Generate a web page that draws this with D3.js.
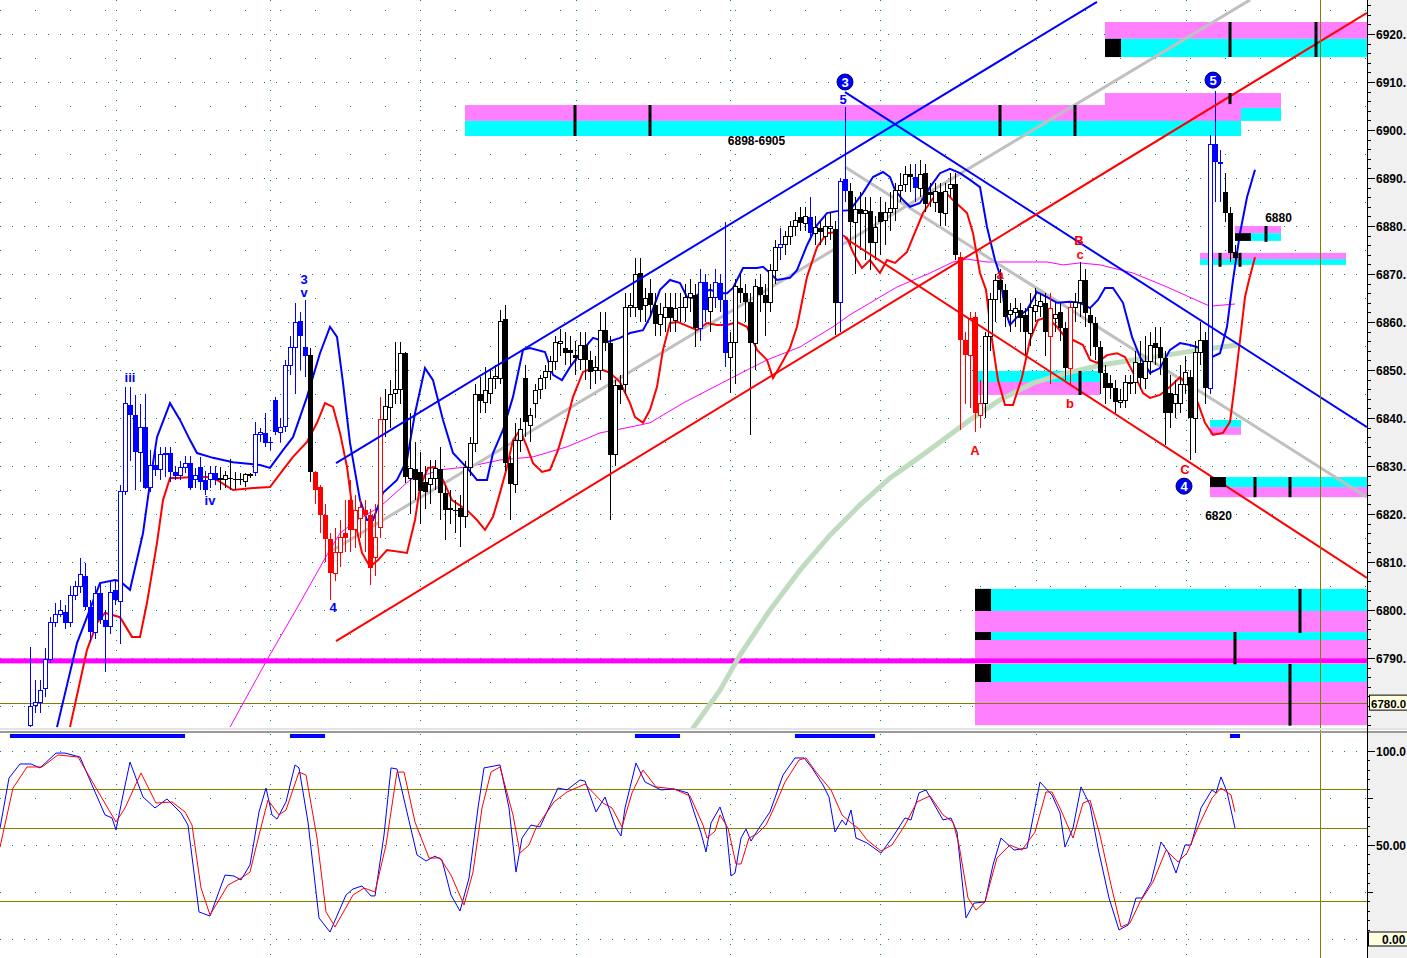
<!DOCTYPE html>
<html><head><meta charset="utf-8">
<script src="https://cdn.jsdelivr.net/npm/d3@7"></script>
<style>
html,body{margin:0;padding:0;background:#fff;overflow:hidden}
svg{display:block}
text{font-family:"Liberation Sans",Arial,sans-serif}
</style></head><body>
<svg id="c" width="1407" height="958"></svg>
<script>
// ---------------- DATA ----------------
// candles: [open, high, low, close], one per bar (bar index = position)
const candles = [
[6776,6792.3,6775.6,6779.8],[6780.2,6785.4,6778.5,6780.8],[6780.8,6785.4,6778.5,6783.3],[6783.75,6792.1,6781.9,6789.6],[6789.6,6798.5,6789,6797.3],
[6797.3,6801.5,6796.5,6799.0],[6799.0,6802.1,6798.5,6800.0],[6799.6,6801,6796,6797.3],[6797.3,6805,6796.5,6803.1],[6803.1,6806,6802,6804.8],
[6804.8,6810.8,6803.5,6807.3],[6807.1,6809.8,6800,6800.6],[6800.6,6802,6793.3,6795.4],[6795.4,6805,6794,6803.5],[6803.5,6805.5,6797,6797.9],
[6797.9,6800,6787.1,6796.5],[6796.5,6806,6795,6803.75],[6804.2,6806,6801,6802.1],[6801.7,6826,6793,6824.6],[6824.6,6846.5,6824,6843.1],
[6842.7,6846.5,6831,6840.6],[6840.6,6844.8,6825,6832.9],[6832.9,6843,6826.7,6838.1],[6838.1,6845,6825.2,6825.4],[6825.6,6833.3,6824.5,6830.2],
[6830.2,6834.8,6828,6829.2],[6829.2,6834,6827,6832.3],[6832.3,6834,6827.7,6832.7],[6832.7,6834,6826.7,6828.75],[6828.75,6830,6827,6828.0],
[6828.0,6831,6827,6829.6],[6829.6,6832,6828.5,6830.6],[6830.6,6832,6825,6825.4],[6827.1,6829.5,6825.5,6828.0],[6829.8,6831.9,6825,6826.7],
[6827.1,6829,6824,6825.0],[6827.1,6830,6825.5,6828.5],[6828.5,6830,6826,6827.1],[6827.3,6829.8,6825,6827.5],[6827.1,6829,6825.5,6828.0],
[6827.5,6831.5,6825,6827.3],[6827.3,6828.75,6825,6827.1],[6827.3,6828.5,6826,6827.1],[6826.7,6828.5,6825.6,6828.2],[6828,6828.5,6827.5,6828.2],
[6828.75,6839.2,6828,6836.5],[6836.5,6838,6835,6837.0],[6836.9,6841,6834,6834.8],[6835,6836,6833.3,6834.8],[6843.75,6844.4,6836.5,6837.1],
[6837,6840,6835,6838.1],[6838.2,6852,6837,6851.0],[6851,6857,6849,6854.6],[6854.6,6864,6845,6860.0],[6860.2,6862,6850,6857.1],
[6854.8,6864.6,6848.5,6852.9],[6853.1,6854.6,6826.7,6828.75],[6828.75,6829,6822,6825.0],[6825.6,6826,6816,6819.8],[6819.8,6822,6810,6814.8],
[6814.8,6816,6802.1,6807.7],[6807.7,6817,6806,6811.9],[6811.9,6818.75,6809,6815.2],[6816.0,6823,6812,6815.0],[6822.9,6827,6812,6816.7],
[6816.7,6824,6813,6820.8],[6819,6823,6815,6821.3],[6820.8,6823,6812,6819.8],[6819.8,6821,6805.2,6808.75],[6811,6822,6807,6815.2],
[6817.1,6844.4,6815,6839.6],[6839.6,6846,6836,6842.3],[6842.1,6848,6838,6844.8],[6845.2,6855.8,6843,6846.0],[6846.0,6855.8,6843,6853.5],
[6853.5,6853.75,6826.5,6827.7],[6827.5,6841,6820,6829.4],[6829.4,6835,6823,6827.1],[6828.75,6833,6818,6824.8],[6826.7,6830,6821,6824.6],
[6826.25,6831.25,6822,6827.3],[6827.3,6831.25,6825,6829.4],[6829.4,6834,6818.75,6824.4],[6824.4,6826,6814.6,6820.8],[6821.25,6825,6818,6820.8],
[6820.8,6823,6816,6820.6],[6821.25,6824,6813.1,6819.4],[6819.4,6831,6817,6829.6],[6829.6,6836,6828,6834.6],[6834.6,6847,6833,6845.0],
[6845.0,6848.5,6841,6843.5],[6843.3,6850.6,6841,6845.8],[6845.2,6850,6843,6848.3],[6848.3,6851,6846,6848.75],[6848.3,6862.5,6847,6860.2],
[6860.6,6863.5,6829,6830.6],[6830.6,6832,6818.75,6826.25],[6826.25,6839,6824.4,6835.4],[6835.4,6840,6833,6837.7],[6848.3,6851,6836,6839.2],
[6838.5,6842,6835,6840.5],[6843.1,6847,6840,6845.8],[6846,6849,6844,6848.3],[6848.5,6851,6846,6849.6],[6849.6,6853,6848,6851.7],
[6851.7,6857,6850,6855.8],[6855.6,6858.5,6853,6856.0],[6854.6,6858,6851,6853.5],[6854.2,6857,6851,6853.5],[6853.1,6856,6849,6852.5],
[6852.1,6858,6850,6855.2],[6855.2,6858,6848,6852.1],[6852.1,6854,6846,6849.6],[6849.8,6853,6847,6850.6],[6850.0,6862,6848,6858.3],
[6858.3,6862,6854,6855.6],[6855.6,6857,6818.75,6832.3],[6832.3,6848,6830,6846.7],[6846.9,6849,6843,6845.8],[6846.9,6866,6845,6863.1],
[6863.1,6866,6861,6863.5],[6863.1,6873.3,6861,6869.8],[6870.2,6873.3,6860,6862.5],[6863.5,6867,6860,6865.0],[6866.0,6869,6861,6863.5],
[6863.5,6866,6857,6859.6],[6859.4,6864,6857,6861.5],[6861.0,6866,6858,6863.1],[6863.1,6866,6858,6860.8],[6860.4,6866,6858,6862.9],
[6863.1,6866,6860,6862.9],[6863.1,6868,6860,6865.2],[6865.2,6869,6862,6866.0],[6865.6,6868,6854.8,6858.75],[6858.75,6871,6856,6868.3],
[6868.3,6870,6860,6862.5],[6862.1,6868,6858,6865.2],[6865.2,6871,6863,6868.3],[6868.1,6870,6862,6864.6],[6864.6,6880.8,6850.6,6853.5],
[6852.7,6858,6845.2,6855.8],[6855.8,6869,6847,6867.3],[6867.1,6870,6864,6866.0],[6866.0,6868,6860,6864.2],[6864.2,6866,6836.5,6855.6],
[6855.6,6869,6850,6867.3],[6867.3,6870,6862,6865.6],[6865.6,6868,6857,6864.0],[6864.0,6872,6862,6870.8],[6870.8,6877,6868,6875.6],
[6875.6,6879.5,6873,6876.25],[6876.25,6879,6874,6877.9],[6877.9,6881,6876,6879.8],[6879.8,6883,6878,6881.25],[6881.9,6884,6879,6880.6],
[6880.6,6884,6879,6881.9],[6881.9,6886,6877,6878.5],[6878.5,6882,6876,6879.6],[6879.6,6881,6876,6878.75],[6877.9,6882,6876,6880.0],
[6879.4,6883,6877,6880.0],[6879.4,6881,6857.3,6864.0],[6864.0,6890,6858,6889.2],[6889.8,6904.8,6885,6887.3],[6887.3,6889,6876,6880.8],
[6880.8,6886,6870,6883.5],[6883.5,6887,6875,6882.5],[6882.7,6886,6873,6883.3],[6883.1,6886,6870.8,6876.5],[6876.5,6882,6873,6879.6],
[6882.9,6886,6874,6880.8],[6881.25,6885,6876,6882.9],[6882.9,6887,6879,6883.75],[6883.75,6889,6881,6887.5],[6887.5,6891,6885,6888.5],
[6888.75,6892.5,6887,6890.8],[6890.8,6893,6887,6890.2],[6890.2,6893,6885,6887.9],[6887.9,6893.8,6886,6890.8],[6891.0,6893,6883,6884.6],
[6887.1,6889,6884,6886.5],[6884.8,6889,6883,6887.1],[6887.1,6889,6880,6882.7],[6882.7,6889,6880,6887.1],[6887.9,6891,6886,6888.75],
[6888.75,6891,6873,6874.0],[6873.5,6874.5,6837.5,6856.25],[6856.25,6858,6843,6853.1],[6853.1,6862,6842,6860.8],[6861.0,6862,6837.1,6841.0],
[6840.6,6848,6838,6843.1],[6843.1,6858,6840,6856.9],[6856.9,6866,6854,6864.6],[6864.6,6870,6860,6868.75],[6868.75,6871,6864,6866.7],
[6866.7,6868,6859,6861.0],[6861.5,6864,6858,6862.3],[6861.9,6865,6859,6862.9],[6862.5,6864,6858,6860.8],[6861.5,6863,6853,6857.9],
[6857.7,6866,6855,6863.1],[6862.1,6867,6860,6863.5],[6863.3,6866,6861,6864.2],[6864.0,6866,6853,6857.9],[6856.9,6866,6847,6862.9],
[6860.8,6864,6858,6861.5],[6862.1,6864,6856,6858.75],[6858.75,6860,6848,6850.4],[6850.4,6864,6847,6863.1],[6863.1,6866,6860,6864.0],
[6864.0,6872.5,6861,6868.75],[6868.75,6871,6859,6861.9],[6861.5,6863,6853,6859.8],[6859.8,6861,6852,6854.8],[6854.8,6856,6845,6849.4],
[6849.4,6851,6843,6846.25],[6847.3,6849,6844,6846.25],[6846.25,6848,6841,6843.3],[6843.3,6846,6842,6843.75],[6843.75,6849,6842,6847.3],
[6847.3,6849,6845,6847.5],[6847.5,6854,6845,6851.5],[6851.5,6856,6846,6848.3],[6848.3,6857,6846,6851.7],[6851.7,6858,6849,6855.2],
[6855.6,6859,6851,6854.6],[6854.8,6859,6849,6852.5],[6852.5,6854,6834.4,6841.0],[6845.2,6849,6838,6841.0],[6843.1,6848,6840,6844.8],
[6843.1,6851,6841,6846.9],[6846.9,6853,6845,6849.4],[6848.5,6850,6831.25,6840.0],[6840.0,6856,6832.7,6853.75],[6853.75,6860,6851,6856.25],
[6856.25,6858,6843,6846.25],[6846.25,6899,6845,6896.9],[6897.1,6908.1,6885,6893.3],[6893.3,6895.8,6885.0,6893.0],[6887.1,6891.0,6880.8,6882.7],
[6882.7,6884,6872.5,6874.4],[6874.6,6876,6872,6873.3]
];
// trend state of each bar run: b = blue, r = red, k = black
const colorRuns = [[0,37,'b'],[38,44,'k'],[45,55,'b'],[56,56,'k'],[57,70,'r'],[71,133,'k'],[134,135,'b'],[136,136,'k'],[137,139,'b'],[140,149,'k'],[150,150,'b'],[151,155,'k'],[156,156,'b'],[157,161,'k'],[162,163,'b'],[164,176,'k'],[177,177,'b'],[178,185,'k'],[186,190,'r'],[191,203,'k'],[204,204,'r'],[205,207,'k'],[208,208,'r'],[209,235,'k'],[236,238,'b'],[239,241,'k']];

// indicator lines [bar, price]
const blueBand = [[5.4,6775.6],[9.4,6793.1],[14,6805.6],[17,6806.25],[18,6806],[20,6804.2],[22.6,6816.0],[24,6826.5],[25.4,6836.0],[28,6843.1],[30,6839.6],[32,6835.4],[33.4,6832.7],[36.6,6831.7],[40.6,6830.8],[46,6830.2],[48,6829.6],[50.6,6833.3],[52.6,6836.0],[55.4,6844.4],[58,6853.5],[60,6859.0],[61.4,6856.9],[62.6,6847.3],[64,6834.8],[66,6822.9],[67.4,6818.75],[68.6,6818.75],[70.6,6824.4],[73.4,6827.1],[75.4,6831.25],[77,6841.0],[79,6850.4],[80.6,6847.9],[82.6,6839.6],[84.6,6832.7],[87.4,6829.6],[89.4,6827.1],[91.4,6827.1],[92.6,6832.7],[94.6,6837.5],[96.6,6844.4],[98.6,6854.2],[100,6854.6],[103,6853.75],[104.6,6849.0],[106.4,6847.9],[108,6850.6],[110.6,6854.2],[112.6,6856.7],[115.4,6855.8],[118,6856.7],[120,6857.7],[122.6,6858.3],[124,6861.0],[126,6866.7],[128,6868.75],[130,6868.1],[131.4,6865.2],[132.6,6865.0],[134,6866.0],[136,6866.7],[138,6866.0],[139.4,6866.0],[140.6,6867.1],[142.6,6871.25],[145.4,6871.25],[146.6,6871.5],[148,6870.2],[149.4,6868.75],[152,6869.2],[153.4,6870.8],[155.4,6876.0],[157.4,6880.2],[159.4,6882.7],[161.4,6883.1],[164,6883.3],[166.6,6886.9],[168.6,6890.2],[170.6,6891.25],[172,6890.2],[173,6887.5],[174.6,6885.4],[176,6884.0],[178,6884.8],[180,6888.1],[182,6891.0],[184,6891.9],[186,6891.0],[188,6889.6],[190,6888.1],[191.4,6879.8],[193,6872.9],[194,6869.8],[195,6862.5],[196,6859.4],[197.4,6861.0],[199.4,6862.5],[201.4,6866.25],[203.4,6865.2],[205.4,6864.0],[208,6864.2],[210,6864.0],[212,6862.9],[213.6,6864.6],[215,6867.1],[216.6,6867.1],[218.6,6864.0],[220.4,6856.9],[222,6852.7],[224,6849.4],[226,6850.4],[228,6854.2],[230,6855.6],[232,6855.2],[234,6854.6],[236,6852.5],[238,6853.5],[239.4,6859.0],[240.6,6868.75],[242,6878.5],[243.4,6886.0],[245,6891.7]];
const redBand = [[8,6775.6],[11.4,6791.7],[13.4,6797.3],[15,6799.4],[18,6798.5],[20.4,6794.4],[22,6794.4],[23.4,6801.5],[25.4,6814.0],[26.6,6822.9],[28,6827.5],[29.4,6827.5],[32.6,6827.7],[35.4,6827.7],[37.4,6827.1],[40.6,6825.0],[44.6,6825.4],[48,6825.6],[50.6,6829.2],[52.6,6831.9],[55.4,6835.0],[57.4,6839.0],[59,6843.1],[60.6,6842.3],[62,6836.9],[63.4,6829.8],[64.6,6820.2],[66.4,6811.9],[68,6809.0],[69.6,6810.4],[71.4,6812.5],[75.4,6811.9],[77,6818.75],[78,6825.6],[79.6,6829.6],[81,6829.8],[82.6,6827.1],[84.4,6822.9],[87.4,6820.8],[89.4,6818.75],[91,6816.7],[92.6,6819.4],[94,6824.4],[95.4,6829.8],[96.6,6835.4],[98,6837.5],[99.4,6834.0],[100.6,6830.6],[102.4,6828.75],[104,6829.2],[105.6,6833.3],[107.4,6839.6],[108.6,6844.4],[110.6,6849.6],[112.6,6850.4],[114.6,6850.0],[116,6849.4],[118,6847.5],[120,6843.1],[121,6840.2],[122.6,6839.0],[124,6841.7],[125.4,6846.5],[126.6,6854.2],[128,6859.8],[129.6,6860.0],[131.4,6859.2],[133.4,6858.3],[135.4,6859.8],[137.4,6859.4],[139.4,6859.4],[141.4,6860.0],[143.4,6859.0],[145.4,6854.2],[147.4,6852.1],[148.6,6848.3],[150.4,6851.5],[152,6854.6],[153.4,6859.0],[155.4,6869.4],[157.4,6875.6],[159.4,6878.5],[161.4,6878.75],[163.4,6877.5],[164.4,6875.0],[165.4,6872.9],[166.4,6871.25],[168,6872.9],[170,6870.2],[171.4,6872.9],[173,6872.3],[175.4,6874.6],[176.6,6877.7],[178.6,6882.7],[180.6,6885.8],[183,6887.1],[184.6,6885.4],[187.4,6882.7],[188.6,6878.5],[190,6870.2],[191.2,6866.7],[192.4,6856.25],[193.6,6847.9],[195,6842.7],[196.6,6842.7],[198.4,6848.5],[200,6856.25],[201.6,6860.4],[203.4,6861.0],[205.4,6859.0],[207,6856.9],[208.6,6856.25],[210.6,6855.2],[212,6852.1],[213.4,6851.5],[215.4,6853.1],[217.4,6853.5],[219,6852.7],[221.4,6847.9],[222.6,6845.2],[224,6844.2],[226,6844.8],[228,6846.5],[230,6848.5],[232,6846.5],[233.6,6843.1],[235,6839.0],[236.6,6836.5],[238.6,6836.9],[240,6839.2],[241,6847.3],[242,6856.25],[243,6865.2],[243.8,6868.75],[245,6873.5]];
const slowMA = [[40,6775.6],[47.4,6789.6],[54,6801.5],[59.4,6811.5],[62,6816.0],[65.4,6818.75],[70,6821.5],[76,6827.1],[82,6829.2],[87.4,6829.8],[94,6831.25],[100.6,6831.9],[107.4,6834.0],[114,6836.9],[120,6838.1],[124,6839.0],[130.6,6843.1],[140.6,6848.5],[147.4,6852.1],[154,6854.8],[160.6,6859.0],[164,6861.5],[173.4,6867.3],[180,6870.2],[184.6,6872.5],[187.4,6873.1],[191.4,6872.5],[203.4,6872.5],[206.6,6871.9],[210,6872.3],[214,6871.9],[220.6,6870.2],[227.4,6867.3],[234,6864.2],[236,6863.3],[241,6863.75]];
const longMA = [[132.6,6775.4],[138,6783.3],[142,6790.6],[148,6800.0],[154,6808.3],[160,6815.6],[166,6821.9],[172,6827.5],[178,6831.9],[184,6836.5],[188,6839.6],[194,6843.75],[200.6,6847.3],[207.4,6849.4],[214,6851.0],[220.6,6852.1],[227.4,6853.1],[234,6854.2],[241.4,6855.2]];

// trend lines [[bar, price],[bar, price]]
const trendBlue = [[[61.2,6830.6],[213.4,6926.7]], [[163,6907.9],[267.4,6838.1]]];
const trendRed  = [[[61.2,6793.5],[267.4,6924.4]], [[163,6877.5],[267.4,6806.7]]];
const trendGrey = [[[60.6,6812.5],[244,6927.1]], [[163,6892.3],[267.4,6823.5]]];

// supply / demand zones: bar from, bar to, top, middle, bottom, kind, marker box
const zones = [
 {b0:215,b1:267.4,top:6922.5,mid:6919.0,bot:6915.2,kind:'res',box:true},
 {b0:215,b1:250.2,top:6907.7,mid:6904.6,bot:6901.9,kind:'res',box:false},
 {b0:87,b1:242.2,top:6905.2,mid:6901.9,bot:6898.75,kind:'res',box:false},
 {b0:241,b1:250.2,top:6880.0,mid:6878.5,bot:6876.9,kind:'res',box:true},
 {b0:234,b1:263.2,top:6874.4,mid:6873.1,bot:6871.9,kind:'res',box:false},
 {b0:189.6,b1:214,top:6849.8,mid:6847.5,bot:6844.8,kind:'sup',box:false},
 {b0:236,b1:242.2,top:6839.6,mid:6838.1,bot:6836.5,kind:'sup',box:false},
 {b0:236,b1:267.4,top:6827.7,mid:6825.6,bot:6823.5,kind:'sup',box:true},
 {b0:189,b1:267.4,top:6804.4,mid:6799.8,bot:6795.4,kind:'sup',box:true},
 {b0:189,b1:267.4,top:6795.4,mid:6793.75,bot:6789.8,kind:'sup',box:true},
 {b0:189,b1:267.4,top:6788.75,mid:6785.0,bot:6776.0,kind:'sup',box:true}
];
// zone ticks [bar, price top, price bottom]
const zoneTicks = [[240,6922.5,6915.2],[257.2,6922.5,6915.2],[109,6905.2,6898.75],[124,6905.2,6898.75],[194,6905.2,6898.75],[209,6905.2,6898.75],[240,6907.7,6905.4],[247.2,6880.0,6876.7],[238,6874.4,6871.5],[242,6874.4,6871.5],[245,6827.7,6823.5],[252,6827.7,6823.5],[210,6849.8,6844.8],[254,6804.4,6795.2],[241,6795.4,6788.7],[252,6788.75,6775.9]];

const magentaLevel = 6789.4;
const oliveLevel = 6780.6;
const markerBar = 258;
const gridBars = [17.2, 48, 78, 109.2, 140, 170, 201.2, 231.2];
const priceTicks = [6780,6790,6800,6810,6820,6830,6840,6850,6860,6870,6880,6890,6900,6910,6920];
const priceLabels = ['6780.','6790.','6800.','6810.','6820.','6830.','6840.','6850.','6860.','6870.','6880.','6890.','6900.','6910.','6920.'];
const lastPrice = '6780.0';

// wave annotations [text, bar, price, colour-group, circled]
const waveLabels = [
 ['3',54.8,6867.9,'b',false],['v',54.8,6865.2,'b',false],['iii',20,6847.5,'b',false],['iv',36,6821.9,'b',false],
 ['4',60.6,6799.6,'b',false],['5',162.6,6905.4,'b',false],
 ['3',163,6910,'b',true],['5',236.6,6910.4,'b',true],['4',230.8,6825.8,'b',true],
 ['A',189,6832.3,'r',false],['a',194,6869.0,'r',false],['B',209.8,6876.0,'r',false],['c',210,6873.1,'r',false],
 ['b',208,6842.1,'r',false],['C',231,6828.3,'r',false]
];
const levelLabels = [['6898-6905',145.3,6896.9],['6880',249.7,6880.8],['6820',237.7,6818.8]];

// oscillator [bar, value]
const oscBlue = [[-6,59.0],[-4.2,85.6],[-2,93.1],[0.2,93.1],[2,91.0],[5.2,98.9],[7,98.9],[10,96.8],[12.4,81.9],[15,66.0],[16.4,64.4],[17.2,58.0],[18.6,76.6],[20,94.1],[22.6,75.5],[25,69.7],[27.4,74.5],[30.2,67.0],[31.6,60.6],[33.8,14.4],[36,12.2],[39,34.0],[40.8,33.5],[42.2,31.4],[44,39.4],[45.8,67.6],[47.2,80.3],[48.4,66.0],[49.4,63.8],[51.2,72.9],[53,92.6],[53.8,91.0],[55.6,62.2],[57.8,11.2],[60,3.7],[63.2,23.4],[64.6,26.6],[66.4,28.2],[68.2,22.9],[69,22.9],[70.8,55.3],[72.2,91.0],[73.4,90.4],[75.2,69.7],[77.4,44.7],[79.2,41.5],[81,44.1],[82.4,42.0],[84.2,23.4],[86,14.9],[87.8,32.4],[89.6,69.7],[90.8,91.0],[94,92.6],[95.8,69.7],[97.2,35.6],[98.4,53.7],[100.2,60.6],[102,59.6],[105.6,80.3],[107.4,79.3],[110,84.6],[111,84.0],[113.2,67.6],[115,75.5],[117.2,59.0],[118.2,54.8],[119,69.7],[121.2,93.6],[123,83.5],[126.2,79.3],[128.8,79.8],[131.6,77.7],[132.8,67.6],[134.2,56.4],[135.2,46.3],[136.2,61.7],[138,70.2],[139.2,60.6],[140.2,33.5],[141,35.1],[142.2,53.7],[143.2,58.5],[144.2,52.1],[145.8,59.0],[148,67.6],[150.6,87.2],[153,96.3],[154.8,96.3],[156.4,91.0],[158.6,81.9],[159.8,75.5],[161,56.9],[162.4,63.3],[163.2,60.6],[164.2,68.6],[165.2,53.7],[167.4,51.1],[170.2,45.7],[172.4,53.7],[175,64.4],[176.2,63.3],[177.8,77.7],[179.2,79.3],[182.6,63.3],[184.2,64.4],[185.4,56.9],[187.2,11.2],[188.8,19.1],[191,19.7],[192.6,39.4],[194.2,53.7],[196.8,47.3],[199.4,48.4],[200.2,59.0],[202,83.5],[204.4,76.6],[206,67.0],[207,48.9],[208.6,59.0],[210.2,80.9],[212,71.3],[213.6,48.4],[215.8,21.8],[217.8,4.8],[219.6,7.4],[221.2,21.8],[222.4,21.8],[224.2,30.3],[226.2,51.6],[227.6,46.3],[229.2,35.1],[231,50.0],[232.2,50.0],[234.2,69.7],[236.4,79.3],[237.2,77.7],[238.2,86.2],[239.4,78.2],[241,59.0]];
const oscRed = [[-6,48.9],[-3.4,80.3],[-0.6,91.5],[2.4,91.5],[5.6,97.9],[9.6,96.8],[13.2,80.3],[17.2,62.2],[19,69.7],[22.2,88.3],[25.2,72.3],[28.4,72.9],[31,67.6],[32.4,60.6],[34.2,27.1],[36,12.8],[39.6,28.7],[42.6,33.0],[44,35.6],[45.8,55.3],[47.6,73.9],[49.8,66.0],[51.2,68.6],[53.8,88.8],[55.2,87.2],[57.4,53.7],[59.2,14.4],[61,6.4],[64.6,23.4],[66.8,27.1],[69,25.0],[71.2,50.0],[73.4,88.8],[74.8,88.8],[77,62.2],[79.8,43.1],[82,43.1],[84.2,34.0],[86.8,18.1],[88.6,35.6],[90.4,69.7],[92.2,88.8],[94,91.5],[96.6,66.0],[98,45.7],[99.8,50.0],[101.2,59.0],[104.8,72.9],[107.4,78.2],[111,82.4],[114.6,72.3],[116.4,69.7],[118.4,59.6],[120.4,77.7],[122.6,89.9],[125.2,80.9],[128.8,79.8],[132,76.1],[134.6,60.6],[135.4,53.7],[137,57.4],[138,66.0],[139.6,59.0],[141.2,39.9],[142.2,39.9],[143.8,53.7],[145.4,55.9],[147.2,60.6],[148.8,69.7],[151,83.5],[153.8,95.2],[155.2,96.3],[157.2,88.8],[160.2,79.3],[162.4,66.0],[164,62.2],[165.6,59.0],[167.4,52.7],[170.2,46.8],[172.4,50.0],[175,60.6],[177.4,72.9],[180,76.1],[182.6,66.0],[184.6,62.2],[185.8,50.0],[187.6,21.8],[189.2,15.4],[191,19.7],[193.4,43.1],[196,50.0],[198.4,47.3],[201,56.9],[203.2,78.2],[204.4,78.2],[206,69.7],[208.6,53.7],[210.6,72.3],[212,73.9],[214,55.3],[216.2,28.7],[218.2,6.4],[220,8.5],[222,19.7],[224.6,30.3],[227.2,47.3],[229.6,41.0],[231.4,45.7],[233.8,60.6],[236.4,75.0],[238.2,80.3],[240.2,76.6],[241,67.6]];
const oscLevels = [80, 59, 20];
const oscTicks = [100, 50];
const oscLabels = ['100.0', '50.00'];
const oscLast = '0.00';
const signalRuns = [[-4,31],[52,59],[121,130],[153,169],[240,242]];

// ---------------- DRAW ----------------
const COL = {b:'#0000ff', r:'#ff0000', k:'#000000'};
const PINK = '#ff80ff', CYAN = '#00ffff', TEAL = '#008080', OLIVE = '#808000';
const plotW = 1367, mainH = 728, oscTop = 734;

const x = d3.scaleLinear().domain([0, 241]).range([30, 1235]);
const y = d3.scaleLinear().domain([6780, 6920]).range([706, 34]);
const yo = d3.scaleLinear().domain([0, 100]).range([939, 751]);

const svg = d3.select('#c');
const defs = svg.append('defs');
defs.append('clipPath').attr('id','mc').append('rect').attr('x',0).attr('y',0).attr('width',plotW).attr('height',mainH);
defs.append('clipPath').attr('id','oc').append('rect').attr('x',0).attr('y',oscTop).attr('width',plotW).attr('height',958-oscTop);

svg.append('rect').attr('width',1407).attr('height',958).attr('fill','#fff');

const main = svg.append('g').attr('clip-path','url(#mc)');
const osc = svg.append('g').attr('clip-path','url(#oc)');

function hline(g, yy, dash, col, w) {
  g.append('line').attr('x1',0).attr('x2',plotW).attr('y1',Math.round(yy)+0.5).attr('y2',Math.round(yy)+0.5)
   .attr('stroke',col).attr('stroke-width',w||1).attr('stroke-dasharray',dash||null);
}
function vline(g, xx, y1, y2, dash, col, w) {
  g.append('line').attr('x1',Math.round(xx)+0.5).attr('x2',Math.round(xx)+0.5).attr('y1',y1).attr('y2',y2)
   .attr('stroke',col).attr('stroke-width',w||1).attr('stroke-dasharray',dash||null);
}

// grid main
priceTicks.forEach(p => { hline(main, y(p), '1,11', TEAL); hline(main, y(p+5), '1,34', TEAL); });
gridBars.forEach(b => vline(main, x(b), 0, mainH, '1,9', TEAL));

// zones
zones.forEach(z => {
  const xa = x(z.b0), xb = x(z.b1);
  const c1 = z.kind === 'res' ? PINK : CYAN, c2 = z.kind === 'res' ? CYAN : PINK;
  main.append('rect').attr('x',xa).attr('y',y(z.top)).attr('width',xb-xa).attr('height',y(z.mid)-y(z.top)).attr('fill',c1);
  main.append('rect').attr('x',xa).attr('y',y(z.mid)).attr('width',xb-xa).attr('height',y(z.bot)-y(z.mid)).attr('fill',c2);
});

// horizontal levels
main.append('rect').attr('x',0).attr('width',plotW).attr('y',y(magentaLevel)-2.5).attr('height',5).attr('fill','#ff00ff');
hline(main, y(oliveLevel), null, OLIVE, 1);

const line = d3.line().x(d => x(d[0])).y(d => y(d[1]));
main.append('path').attr('d', line(longMA)).attr('fill','none').attr('stroke','#bfdcbf').attr('stroke-width',5).attr('stroke-linecap','round');
main.append('path').attr('d', line(slowMA)).attr('fill','none').attr('stroke','#ff00ff').attr('stroke-width',1);
trendGrey.forEach(t => main.append('path').attr('d', line(t)).attr('fill','none').attr('stroke','#c0c0c0').attr('stroke-width',3));
main.append('path').attr('d', line(blueBand)).attr('fill','none').attr('stroke',COL.b).attr('stroke-width',2);
main.append('path').attr('d', line(redBand)).attr('fill','none').attr('stroke',COL.r).attr('stroke-width',2);

// candles
const colorOf = i => { for (const r of colorRuns) if (i >= r[0] && i <= r[1]) return COL[r[2]]; return '#000'; };
const cg = main.append('g').attr('shape-rendering','crispEdges');
candles.forEach((d, i) => {
  const [o, h, l, c] = d;
  const col = colorOf(i);
  const cx = Math.round(x(i));
  cg.append('line').attr('x1',cx+0.5).attr('x2',cx+0.5).attr('y1',y(h)).attr('y2',y(l)).attr('stroke',col).attr('stroke-width',1);
  const top = y(Math.max(o, c)), bot = y(Math.min(o, c));
  const hgt = Math.max(1, bot - top);
  if (c >= o) {
    cg.append('rect').attr('x',cx-1.5).attr('y',top).attr('width',4).attr('height',hgt).attr('fill','#fff').attr('stroke',col).attr('stroke-width',1);
  } else {
    cg.append('rect').attr('x',cx-2).attr('y',top).attr('width',5).attr('height',hgt).attr('fill',col);
  }
});

// trend lines
trendBlue.forEach(t => main.append('path').attr('d', line(t)).attr('fill','none').attr('stroke',COL.b).attr('stroke-width',2));
trendRed.forEach(t => main.append('path').attr('d', line(t)).attr('fill','none').attr('stroke',COL.r).attr('stroke-width',2));

// zone boxes and ticks
zones.filter(z => z.box).forEach(z => {
  const cyTop = z.kind === 'res' ? z.mid : z.top, cyBot = z.kind === 'res' ? z.bot : z.mid;
  main.append('rect').attr('x',x(z.b0)).attr('y',y(cyTop)).attr('width',x(z.b0+3.2)-x(z.b0)).attr('height',y(cyBot)-y(cyTop)).attr('fill','#000');
});
zoneTicks.forEach(t => main.append('rect').attr('x',x(t[0])-1.5).attr('y',y(t[1])).attr('width',3).attr('height',y(t[2])-y(t[1])).attr('fill','#000'));

// vertical marker (both panels)
vline(svg, x(markerBar), 0, 958, null, OLIVE, 1);

// wave labels
waveLabels.forEach(w => {
  const [t, b, p, g, circ] = w;
  if (circ) {
    main.append('circle').attr('cx',x(b)).attr('cy',y(p)).attr('r',8).attr('fill','#0000ff').attr('stroke','#000060').attr('stroke-width',1);
    main.append('text').attr('x',x(b)).attr('y',y(p)+4.5).attr('text-anchor','middle').attr('font-size',13).attr('font-weight','bold').attr('fill','#fff').text(t);
  } else {
    main.append('text').attr('x',x(b)).attr('y',y(p)).attr('text-anchor','middle').attr('font-size',13).attr('font-weight','bold').attr('fill', g === 'b' ? '#0000ff' : '#ff0000').text(t);
  }
});
levelLabels.forEach(l => main.append('text').attr('x',x(l[1])).attr('y',y(l[2])).attr('text-anchor','middle').attr('font-size',12).attr('font-weight','bold').attr('fill','#000').text(l[0]));

// ---------- oscillator ----------
[0, 50, 100].forEach(v => hline(osc, yo(v), '1,11', TEAL));
[25, 75].forEach(v => hline(osc, yo(v), '1,34', TEAL));
gridBars.forEach(b => vline(osc, x(b), oscTop, 958, '1,9', TEAL));
oscLevels.forEach(v => hline(osc, yo(v), null, OLIVE, 1));
const oline = d3.line().x(d => x(d[0])).y(d => yo(d[1]));
osc.append('path').attr('d', oline(oscBlue)).attr('fill','none').attr('stroke','#0000ff').attr('stroke-width',1);
osc.append('path').attr('d', oline(oscRed)).attr('fill','none').attr('stroke','#ff0000').attr('stroke-width',1);
signalRuns.forEach(r => osc.append('rect').attr('x',x(r[0])).attr('y',oscTop).attr('width',x(r[1])-x(r[0])).attr('height',4).attr('fill','#0000ff'));

// ---------- panel separator ----------
svg.append('rect').attr('x',0).attr('y',728).attr('width',1407).attr('height',2).attr('fill','#e4e4e4');
svg.append('rect').attr('x',0).attr('y',731).attr('width',1407).attr('height',2).attr('fill','#9a9a9a');

// ---------- right axis ----------
const ax = svg.append('g');
ax.append('rect').attr('x',1368).attr('y',0).attr('width',39).attr('height',728).attr('fill','#f0f0f0');
ax.append('rect').attr('x',1368).attr('y',733).attr('width',39).attr('height',225).attr('fill','#f0f0f0');
vline(ax, 1367, 0, 958, null, '#000', 1);
const ag = ax.append('g').attr('shape-rendering','crispEdges');
d3.range(6776, 6928, 2).forEach(p => { const yy = Math.round(y(p)) + 0.5; ag.append('line').attr('x1',1368).attr('x2',1371).attr('y1',yy).attr('y2',yy).attr('stroke','#000'); });
priceTicks.forEach((p, i) => {
  if (p === 6780) return;
  const yy = Math.round(y(p)) + 0.5;
  ag.append('line').attr('x1',1368).attr('x2',1375).attr('y1',yy).attr('y2',yy).attr('stroke','#000');
  ax.append('text').attr('x',1376).attr('y',yy+4.5).attr('font-size',12).attr('font-weight','bold').attr('fill','#000').text(priceLabels[i]);
});
ax.append('rect').attr('x',1369.5).attr('y',y(oliveLevel)-8).attr('width',40).attr('height',15).attr('fill','#ffffe0').attr('stroke','#000');
ax.append('text').attr('x',1371).attr('y',y(oliveLevel)+4.5).attr('font-size',11.5).attr('font-weight','bold').attr('fill','#000').text(lastPrice);

d3.range(0, 101, 5).forEach(v => { const yy = Math.round(yo(v)) + 0.5; ag.append('line').attr('x1',1368).attr('x2',(v % 25 === 0) ? 1373 : 1370).attr('y1',yy).attr('y2',yy).attr('stroke','#000'); });
oscTicks.forEach((v, i) => {
  const yy = Math.round(yo(v)) + 0.5;
  ag.append('line').attr('x1',1368).attr('x2',1375).attr('y1',yy).attr('y2',yy).attr('stroke','#000');
  ax.append('text').attr('x',1376).attr('y',yy+4.5).attr('font-size',12).attr('font-weight','bold').attr('fill','#000').text(oscLabels[i]);
});
ax.append('rect').attr('x',1368.5).attr('y',yo(0)-7).attr('width',40).attr('height',14).attr('fill','#ffffe0').attr('stroke','#000');
ax.append('text').attr('x',1382).attr('y',yo(0)+4.5).attr('font-size',12).attr('font-weight','bold').attr('fill','#000').text(oscLast);
</script></body></html>
